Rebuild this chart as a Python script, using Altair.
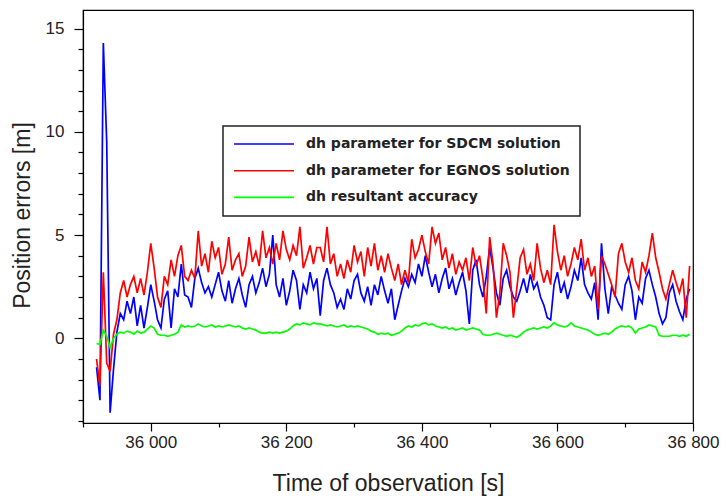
import altair as alt
import pandas as pd

# sample times [s]
time_s = list(range(35920, 36800, 5))

sdcm = [
    -1.4, -3.0, 14.3, 9.5, -3.6, -1.5, 0.3, 1.2, 0.9, 1.8, 1.2, 2.0, 0.6, 1.6, 0.5, 1.5,
    2.6, 1.8, 0.9, 0.5, 1.9, 2.3, 0.5, 2.4, 2.0, 3.6, 2.1, 2.0, 1.5, 2.9, 3.4, 2.7, 2.2, 2.5, 2.0, 2.6, 3.2, 2.3, 1.8, 2.8, 1.7,
    2.4, 2.9, 2.1, 1.5, 2.6, 3.0, 2.2, 2.7, 3.4, 2.5, 3.1, 5.0, 2.6, 2.0, 2.9, 1.6, 2.3, 3.3, 2.8, 1.4, 2.6, 2.2, 3.2, 2.4, 2.9,
    1.1, 2.8, 3.4, 2.6, 2.2, 1.5, 1.9, 1.4, 2.4, 1.9, 2.8, 3.1, 2.2, 1.8, 2.5, 1.6, 2.6, 2.1, 3.0, 2.3, 1.7, 2.4, 0.9, 1.6, 2.3,
    2.9, 2.5, 3.1, 2.7, 3.6, 3.0, 4.0, 3.2, 2.5, 3.1, 2.2, 2.9, 3.4, 2.4, 2.9, 2.1, 2.7, 3.2, 2.3, 0.7, 3.3, 3.8, 2.6, 2.0, 3.0,
    4.4, 3.4, 2.2, 1.6, 2.9, 3.3, 2.5, 2.0, 1.8, 2.3, 2.9, 2.2, 3.1, 2.4, 2.7, 2.0, 1.6, 1.0, 0.9, 2.6, 3.2, 2.2, 2.7, 1.9, 2.5,
    3.3, 2.8, 3.9, 2.6, 2.2, 1.9, 2.7, 0.9, 4.6, 2.4, 1.2, 2.5, 2.1, 1.7, 1.4, 2.6, 3.0, 2.3, 0.9, 2.0, 1.7, 2.9, 3.3, 2.6, 2.0,
    1.2, 0.7, 1.0, 2.2, 2.6, 1.8, 1.3, 0.9, 1.9, 2.4,
]

egnos = [
    -1.0, -2.3, 3.2, -1.2, -1.6, 0.2, 0.9, 2.2, 2.8, 2.0, 2.6, 3.0, 2.2, 2.9, 2.1, 3.2,
    4.6, 3.4, 2.0, 1.5, 3.0, 2.6, 3.8, 3.0, 4.0, 4.5, 3.0, 2.8, 3.3, 2.9, 5.2, 3.5, 4.1, 3.2, 4.7, 3.9, 4.4, 3.1, 3.6, 4.9, 3.3,
    3.8, 4.1, 3.0, 3.5, 4.9, 3.7, 4.2, 3.5, 5.2, 3.9, 4.4, 3.6, 4.6, 3.8, 5.2, 4.3, 3.8, 4.5, 4.0, 5.4, 3.4, 3.9, 4.5, 3.6, 4.4,
    4.4, 3.7, 5.4, 3.6, 4.1, 3.0, 3.6, 2.9, 3.8, 3.2, 4.5, 3.7, 4.2, 3.0, 4.4, 3.5, 4.6, 3.3, 4.0, 3.2, 4.1, 3.4, 2.8, 3.6, 2.6,
    3.3, 2.7, 4.8, 3.9, 4.3, 5.0, 4.2, 3.6, 5.4, 4.6, 5.1, 3.8, 4.4, 3.4, 4.1, 3.1, 3.7, 3.3, 3.9, 2.8, 4.4, 3.5, 4.0, 2.9, 1.2,
    4.9, 3.6, 1.0, 2.2, 4.6, 4.0, 3.2, 1.0, 2.4, 3.9, 4.3, 3.1, 3.6, 2.8, 4.6, 3.4, 2.7, 3.3, 2.6, 5.5, 4.2, 3.3, 4.0, 3.0, 3.6,
    4.4, 3.8, 4.8, 3.3, 3.9, 3.0, 3.5, 1.4, 4.0, 3.6, 3.1, 2.6, 2.0, 4.1, 4.6, 3.7, 3.2, 3.9, 2.8, 2.4, 3.7, 3.2, 4.0, 5.1, 3.9,
    3.2, 2.4, 1.9, 2.6, 3.3, 2.7, 2.2, 2.9, 1.0, 3.5,
]

resultant = [
    -0.25, -0.3, 0.4, 0.1, -0.45, 0.0, 0.2, 0.3, 0.25, 0.35, 0.3, 0.2, 0.35, 0.25, 0.3, 0.45,
    0.6, 0.5, 0.2, 0.15, 0.15, 0.1, 0.15, 0.2, 0.3, 0.65, 0.55, 0.6, 0.55, 0.6, 0.7, 0.6, 0.55, 0.6, 0.65, 0.55, 0.6, 0.55, 0.6, 0.65, 0.6,
    0.55, 0.6, 0.5, 0.45, 0.5, 0.45, 0.4, 0.3, 0.25, 0.25, 0.3, 0.25, 0.3, 0.25, 0.3, 0.35, 0.45, 0.6, 0.7, 0.65, 0.75, 0.7, 0.65, 0.75, 0.7,
    0.7, 0.65, 0.6, 0.65, 0.6, 0.55, 0.6, 0.65, 0.55, 0.6, 0.55, 0.6, 0.55, 0.5, 0.45, 0.35, 0.3, 0.2, 0.25, 0.2, 0.25, 0.15, 0.2, 0.25, 0.35,
    0.5, 0.6, 0.55, 0.65, 0.6, 0.7, 0.75, 0.65, 0.7, 0.6, 0.55, 0.5, 0.55, 0.45, 0.5, 0.4, 0.45, 0.5, 0.4, 0.45, 0.5, 0.45, 0.4, 0.2, 0.15,
    0.15, 0.2, 0.25, 0.2, 0.15, 0.1, 0.15, 0.1, 0.05, 0.15, 0.3, 0.4, 0.45, 0.5, 0.45, 0.5, 0.55, 0.5, 0.6, 0.75, 0.65, 0.6, 0.55, 0.6, 0.75,
    0.6, 0.55, 0.5, 0.45, 0.4, 0.3, 0.2, 0.15, 0.2, 0.25, 0.2, 0.3, 0.45, 0.55, 0.6, 0.55, 0.6, 0.5, 0.25, 0.45, 0.5, 0.55, 0.65, 0.6, 0.55,
    0.15, 0.1, 0.1, 0.1, 0.15, 0.15, 0.1, 0.15, 0.1, 0.2,
]

series_names = [
    "dh parameter for SDCM solution",
    "dh parameter for EGNOS solution",
    "dh resultant accuracy",
]
series_colors = ["#0000ff", "#ff0000", "#00ff00"]

x_ticks = list(range(35900, 36801, 100))
y_ticks = list(range(-4, 16))

rows = []
for name, vals in zip(series_names, [sdcm, egnos, resultant]):
    for t, v in zip(time_s, vals):
        rows.append({"t": t, "v": v, "series": name})
df = pd.DataFrame(rows)

TXT = "#222222"

chart = (
    alt.Chart(df)
    .mark_line(interpolate="linear", strokeWidth=1.7, clip=True)
    .encode(
        x=alt.X(
            "t:Q",
            scale=alt.Scale(domain=[35900, 36800], nice=False, zero=False),
            axis=alt.Axis(
                values=x_ticks,
                labelExpr="datum.value % 200 === 0 ? replace(format(datum.value, ','), ',', ' ') : ''",
                tickSize={"condition": {"test": "datum.value % 200 === 0", "value": 8}, "value": 4},
                labelFlush=False,
                labelOverlap=False,
                labelPadding=3,
                grid=False,
                title="Time of observation [s]",
                titleX=305,
                titleY=60,
                titleBaseline="middle",
                titleAlign="center",
            ),
        ),
        y=alt.Y(
            "v:Q",
            scale=alt.Scale(domain=[-4.1, 15.9], nice=False, zero=False),
            axis=alt.Axis(
                values=y_ticks,
                labelExpr="datum.value % 5 === 0 ? format(datum.value, 'd') : ''",
                tickSize={"condition": {"test": "datum.value % 5 === 0", "value": 9}, "value": 5},
                labelOverlap=False,
                labelPadding=10,
                grid=False,
                title="Position errors [m]",
                titleX=-61,
                titleY=205,
                titleBaseline="middle",
                titleAlign="center",
            ),
        ),
        color=alt.Color(
            "series:N",
            scale=alt.Scale(domain=series_names, range=series_colors),
            sort=series_names,
            legend=alt.Legend(
                title=None,
                orient="none",
                legendX=140,
                legendY=116,
                direction="vertical",
                symbolType="stroke",
                symbolSize=3600,
                symbolStrokeWidth=1.6,
                clipHeight=16,
                rowPadding=10.7,
                labelOffset=11,
                labelLimit=400,
                labelFont="DejaVu Sans",
                labelFontWeight="bold",
                labelFontSize=14,
                labelColor=TXT,
                padding=10,
                strokeColor="#222222",
                fillColor="white",
                cornerRadius=0,
            ),
        ),
    )
    .properties(
        width=610,
        height=413,
        autosize=alt.AutoSizeParams(type="none"),
        padding={"left": 83, "top": 10, "right": 33, "bottom": 77},
    )
    .configure_view(stroke="black", strokeWidth=1.2)
    .configure_legend(strokeWidth=1.5)
    .configure_axis(
        domainColor="black",
        domainWidth=1.2,
        tickColor="black",
        tickWidth=1.2,
        labelFont="Liberation Sans",
        labelFontSize=17,
        labelColor=TXT,
        titleFont="Liberation Sans",
        titleFontSize=23,
        titleFontWeight="normal",
        titleColor=TXT,
    )
)

chart.save("out.html", embed_options={"renderer": "svg", "actions": False})
